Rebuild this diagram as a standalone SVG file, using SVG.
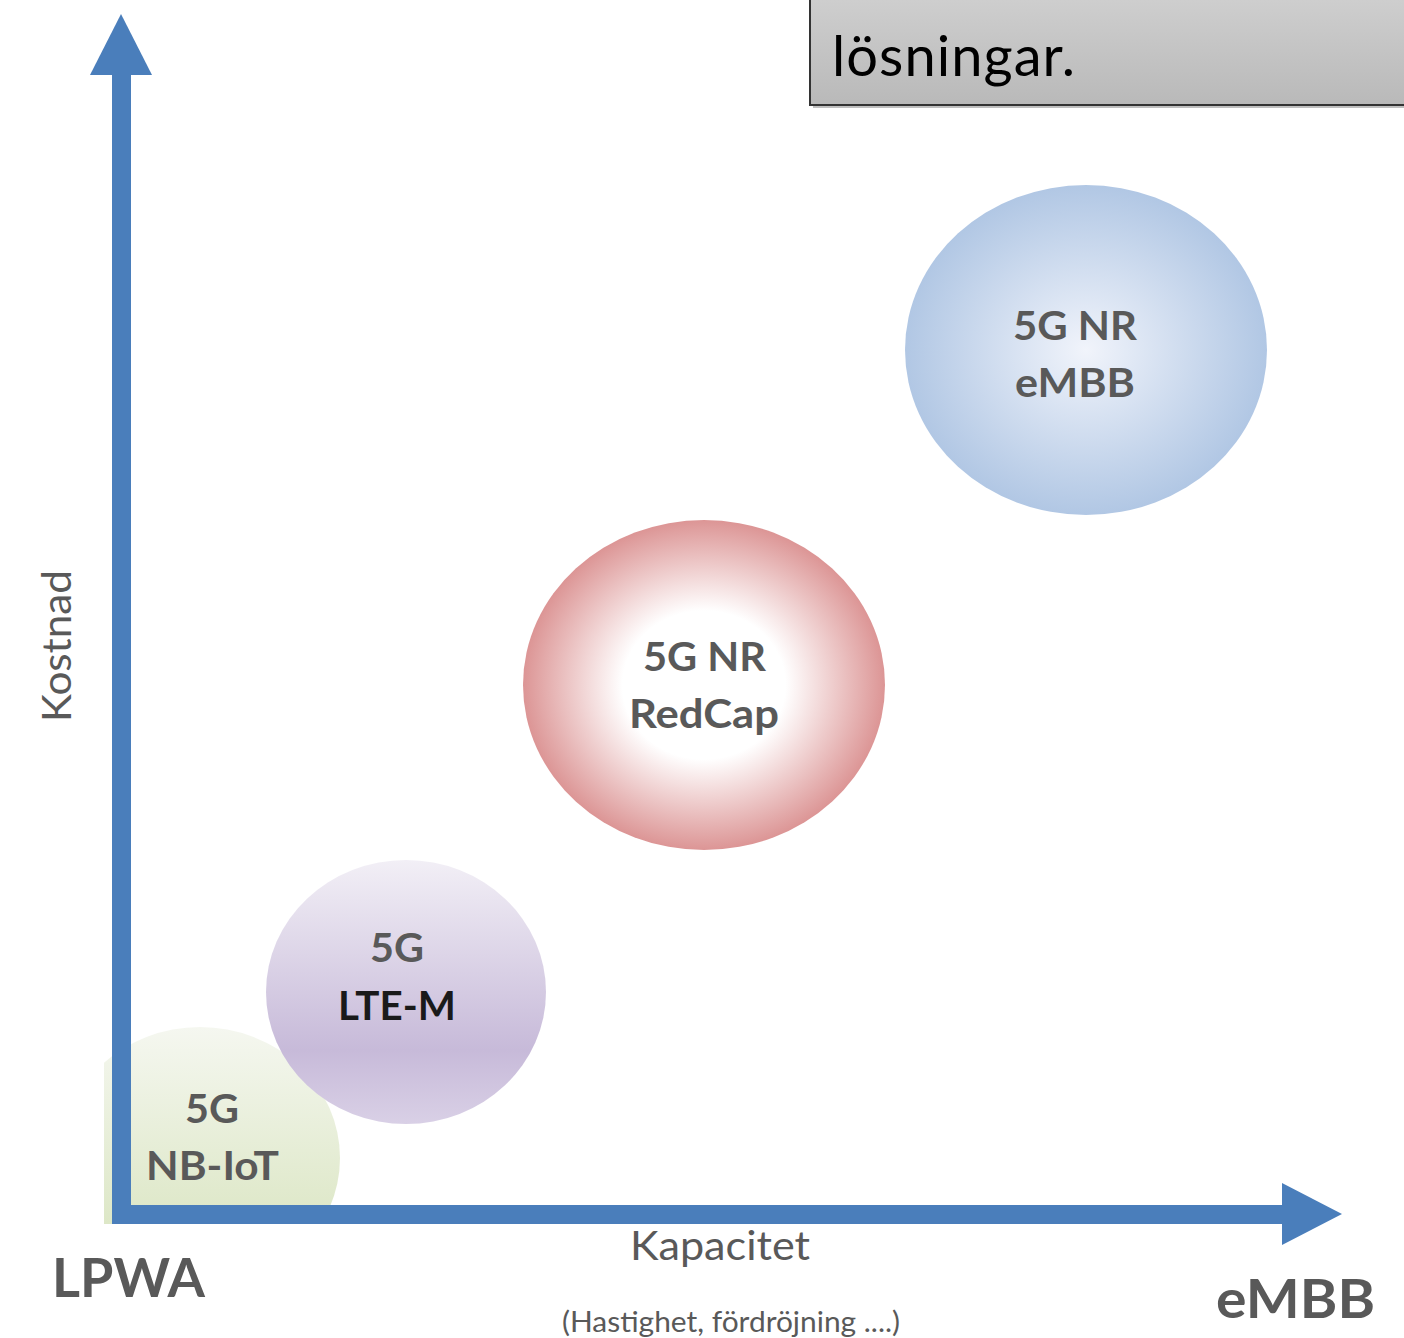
<svg xmlns="http://www.w3.org/2000/svg" width="1404" height="1338" viewBox="0 0 1404 1338">
<style>
.lbl{font-family:Lato,"Open Sans","Liberation Sans",sans-serif;font-weight:bold;fill:#595959;text-anchor:middle}
.ax{font-family:Lato,"Open Sans","Liberation Sans",sans-serif;fill:#595959;text-anchor:middle}
.axis{fill:#4a7ebb}
</style>
<defs>
<linearGradient id="gGreen" x1="0" y1="0" x2="0" y2="1">
<stop offset="0" stop-color="#f5f7f0"/><stop offset="1" stop-color="#d5e2b9"/>
</linearGradient>
<linearGradient id="gPurple" x1="0" y1="0" x2="0" y2="1">
<stop offset="0" stop-color="#f2eff6"/><stop offset="0.72" stop-color="#c7bad9"/><stop offset="1" stop-color="#d9d0e6"/>
</linearGradient>
<radialGradient id="gRed" cx="0.5" cy="0.5" r="0.5">
<stop offset="0" stop-color="#ffffff"/><stop offset="0.45" stop-color="#ffffff"/><stop offset="1" stop-color="#dc9595"/>
</radialGradient>
<radialGradient id="gBlue" cx="0.5" cy="0.5" r="0.5">
<stop offset="0" stop-color="#f1f4fb"/><stop offset="1" stop-color="#b1c7e4"/>
</radialGradient>
<linearGradient id="gBox" x1="0" y1="0" x2="0" y2="1">
<stop offset="0" stop-color="#d0d0d0"/><stop offset="1" stop-color="#b9b9b9"/>
</linearGradient>
<clipPath id="cGreen"><rect x="104" y="900" width="400" height="324"/></clipPath>
</defs>

<g id="title">
<rect x="813" y="-10" width="600" height="118" fill="#000" opacity="0.25"/>
<rect x="810" y="-10" width="600" height="115" fill="url(#gBox)" stroke="#333" stroke-width="2"/>
<text x="832" y="76" font-family="Lato,'Open Sans','Liberation Sans',sans-serif" font-size="56" fill="#000" textLength="243">lösningar.</text>
</g>

<g id="nbiot">
<ellipse cx="200" cy="1158" rx="140" ry="131" fill="url(#gGreen)" clip-path="url(#cGreen)"/>
<text class="lbl" x="212" y="1123" font-size="40" textLength="54" lengthAdjust="spacingAndGlyphs">5G</text>
<text class="lbl" x="212.5" y="1180" font-size="40" textLength="133" lengthAdjust="spacingAndGlyphs">NB-IoT</text>
</g>

<g id="ltem">
<ellipse cx="406" cy="992" rx="140" ry="132" fill="url(#gPurple)"/>
<text class="lbl" x="397" y="962" font-size="40" textLength="54" lengthAdjust="spacingAndGlyphs">5G</text>
<text class="lbl" x="397" y="1020" font-size="40" style="fill:#1a1a1a" textLength="118" lengthAdjust="spacingAndGlyphs">LTE-M</text>
</g>

<g id="redcap">
<ellipse cx="704" cy="685" rx="181" ry="165" fill="url(#gRed)"/>
<text class="lbl" x="704.5" y="671" font-size="40" textLength="123" lengthAdjust="spacingAndGlyphs">5G NR</text>
<text class="lbl" x="704" y="728" font-size="40" textLength="150" lengthAdjust="spacingAndGlyphs">RedCap</text>
</g>

<g id="embb">
<ellipse cx="1086" cy="350" rx="181" ry="165" fill="url(#gBlue)"/>
<text class="lbl" x="1075" y="340" font-size="40" textLength="124" lengthAdjust="spacingAndGlyphs">5G NR</text>
<text class="lbl" x="1075" y="397" font-size="40" textLength="120" lengthAdjust="spacingAndGlyphs">eMBB</text>
</g>

<g id="connectors">
<rect class="axis" x="112" y="70" width="19" height="1154"/>
<polygon class="axis" points="121,14 152,75 90,75"/>
<rect class="axis" x="112" y="1205" width="1172" height="19"/>
<polygon class="axis" points="1282,1183 1342,1214 1282,1245"/>
</g>

<g id="labels">
<text class="ax" x="57" y="646" font-size="41" transform="rotate(-90 57 646)" dy="14" textLength="152" lengthAdjust="spacingAndGlyphs">Kostnad</text>
<text class="ax" x="720" y="1260" font-size="41" textLength="180" lengthAdjust="spacingAndGlyphs">Kapacitet</text>
<text class="ax" x="731" y="1332" font-size="29" textLength="338" lengthAdjust="spacingAndGlyphs">(Hastighet, fördröjning ....)</text>
<text class="lbl" x="128.5" y="1297" font-size="53" textLength="153" lengthAdjust="spacingAndGlyphs">LPWA</text>
<text class="lbl" x="1295.5" y="1318" font-size="53" textLength="159" lengthAdjust="spacingAndGlyphs">eMBB</text>
</g>
</svg>
